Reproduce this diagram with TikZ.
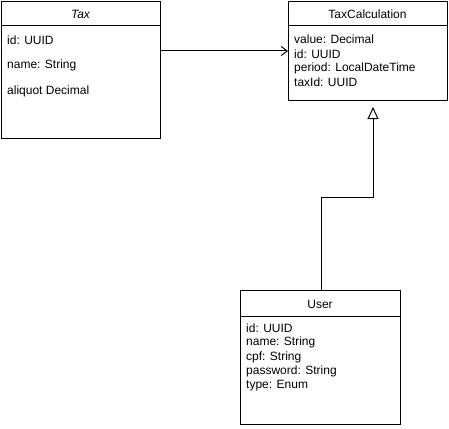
\documentclass[tikz,border=0pt]{standalone}
\usepackage{fontspec}
\setmainfont{Liberation Sans}
\usetikzlibrary{arrows.meta}
\tikzset{
  classbox/.style={draw, line width=1pt, rectangle, anchor=north west, inner sep=0pt},
  headtext/.style={font=\fontsize{12}{14}\selectfont, inner sep=0pt},
  attr/.style={font=\fontsize{12}{14}\selectfont, anchor=west, inner sep=0pt},
  assoc/.style={line width=1pt, -{Straight Barb[length=6pt,width=9pt,line width=1pt]}},
  inherit/.style={line width=1pt, -{Triangle[open,length=12pt,width=11pt,line width=1pt]}}
}
\begin{document}
\begin{tikzpicture}[x=1pt,y=-1pt]
\useasboundingbox (0,0) rectangle (449,428);

\node [classbox, minimum width=159pt, minimum height=137pt] (tax) at (1,1) {};
\node [classbox, minimum width=159pt, minimum height=99pt] (calc) at (288,1) {};
\node [classbox, minimum width=160pt, minimum height=134pt] (user) at (240,290) {};

\draw [line width=1pt] (tax.north west) ++(0,25) -- ++(159,0);
\draw [line width=1pt] (calc.north west) ++(0,25) -- ++(159,0);
\draw [line width=1pt] (user.north west) ++(0,26) -- ++(160,0);

\node [headtext, font=\fontsize{12}{14}\selectfont\itshape] (taxname) at (80.5,14) {Tax};
\node [attr] (taxid) at (7,40) {id: UUID};
\node [attr] (taxnm) at (7,65.5) {name: String};
\node [attr] (taxaliq) at (7,91) {aliquot Decimal};

\node [headtext] (calcname) at (367.5,14) {TaxCalculation};
\node [attr] (calcval) at (294,39.5) {value: Decimal};
\node [attr] (calcid) at (294,53.8) {id: UUID};
\node [attr] (calcper) at (294,68.1) {period: LocalDateTime};
\node [attr] (calctax) at (294,82.4) {taxId: UUID};

\node [headtext] (username) at (320,304) {User};
\node [attr] (userid) at (246,328.5) {id: UUID};
\node [attr] (usernm) at (246,342.8) {name: String};
\node [attr] (usercpf) at (246,357.1) {cpf: String};
\node [attr] (userpw) at (246,371.4) {password: String};
\node [attr] (usertype) at (246,385.7) {type: Enum};

\draw [assoc] (tax.east |- calc.west) -- (calc.west);
\draw [inherit] ([xshift=1pt]user.north) -- ++(0,-93) -| ([xshift=5pt,yshift=-6pt]calc.south);
\end{tikzpicture}
\end{document}
